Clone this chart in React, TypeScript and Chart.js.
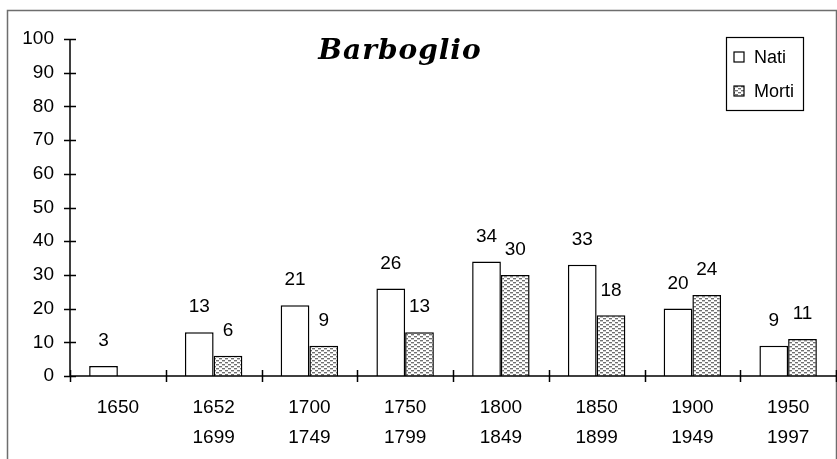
import React, { useEffect, useRef } from "react";
import { Chart, registerables } from "chart.js";
Chart.register(...registerables);

const categories: string[][] = [
  ["1650"],
  ["1652", "1699"],
  ["1700", "1749"],
  ["1750", "1799"],
  ["1800", "1849"],
  ["1850", "1899"],
  ["1900", "1949"],
  ["1950", "1997"],
];
const nati: (number | null)[] = [3, 13, 21, 26, 34, 33, 20, 9];
const morti: (number | null)[] = [null, 6, 9, 13, 30, 18, 24, 11];
const seriesNames = ["Nati", "Morti"];
const titleText = "Barboglio";
const yMin = 0;
const yMax = 100;
const yStep = 10;

const FONT = "'Liberation Sans', Arial, sans-serif";

function makePattern(): CanvasPattern | string {
  const c = document.createElement("canvas");
  c.width = 6;
  c.height = 4;
  const g = c.getContext("2d");
  if (!g) return "#d0d0d0";
  g.fillStyle = "#ffffff";
  g.fillRect(0, 0, 6, 4);
  g.fillStyle = "#707070";
  g.fillRect(0, 0, 3, 1);
  g.fillRect(3, 2, 3, 1);
  g.fillStyle = "#c8c8c8";
  g.fillRect(0, 1, 3, 1);
  g.fillRect(3, 3, 3, 1);
  const p = g.createPattern(c, "repeat");
  return p || "#d0d0d0";
}

export default function App() {
  const ref = useRef<HTMLCanvasElement>(null);

  useEffect(() => {
    if (!ref.current) return;
    const pattern = makePattern();

    const decor = {
      id: "decor",
      afterDraw(chart: any) {
        const ctx = chart.ctx;
        const x = chart.scales.x;
        const y = chart.scales.y;
        const area = chart.chartArea;
        ctx.save();
        // outer frame
        ctx.strokeStyle = "#6e6e6e";
        ctx.lineWidth = 1.5;
        ctx.strokeRect(7.5, 10.5, 829, 460);

        // axes
        ctx.strokeStyle = "#000";
        ctx.lineWidth = 1.5;
        ctx.beginPath();
        ctx.moveTo(area.left, y.getPixelForValue(yMax));
        ctx.lineTo(area.left, y.getPixelForValue(yMin));
        ctx.moveTo(area.left, y.getPixelForValue(0));
        ctx.lineTo(area.right, y.getPixelForValue(0));
        for (let v = yMin; v <= yMax; v += yStep) {
          const py = Math.round(y.getPixelForValue(v)) + 0.5;
          ctx.moveTo(area.left - 6, py);
          ctx.lineTo(area.left + 6, py);
        }
        const n = categories.length;
        const y0 = y.getPixelForValue(0);
        for (let i = 0; i <= n; i++) {
          let px: number;
          if (i === 0) px = area.left;
          else if (i === n) px = area.right;
          else px = (x.getPixelForValue(i - 1) + x.getPixelForValue(i)) / 2;
          px = Math.round(px) + 0.5;
          ctx.moveTo(px, y0 - 6);
          ctx.lineTo(px, y0 + 6);
        }
        ctx.stroke();

        // data labels
        ctx.fillStyle = "#000";
        ctx.font = `19px ${FONT}`;
        ctx.textAlign = "center";
        ctx.textBaseline = "middle";
        chart.data.datasets.forEach((ds: any, di: number) => {
          const meta = chart.getDatasetMeta(di);
          meta.data.forEach((el: any, i: number) => {
            const v = ds.data[i];
            if (v === null || v === undefined) return;
            ctx.fillText(String(v), el.x, el.y - 25);
          });
        });

        // title
        ctx.font = `italic bold 28px 'DejaVu Serif', serif`;
        (ctx as any).letterSpacing = "1px";
        ctx.textAlign = "center";
        ctx.textBaseline = "alphabetic";
        ctx.fillText(titleText, 400, 59);
        (ctx as any).letterSpacing = "0px";

        // legend
        ctx.lineWidth = 1.2;
        ctx.strokeStyle = "#000";
        ctx.strokeRect(726.5, 37.5, 77, 73);
        const items = [
          { label: seriesNames[0], fill: "#ffffff", y: 57 },
          { label: seriesNames[1], fill: pattern, y: 91 },
        ];
        ctx.font = `18px ${FONT}`;
        ctx.textAlign = "left";
        ctx.textBaseline = "middle";
        items.forEach((it) => {
          ctx.fillStyle = it.fill as any;
          ctx.fillRect(734, it.y - 5, 10, 10);
          ctx.strokeRect(734, it.y - 5, 10, 10);
          ctx.fillStyle = "#000";
          ctx.fillText(it.label, 754, it.y + 1);
        });
        ctx.restore();
      },
    };

    const chart = new Chart(ref.current, {
      type: "bar",
      data: {
        labels: categories,
        datasets: [
          {
            label: seriesNames[0],
            data: nati,
            backgroundColor: "#ffffff",
            borderColor: "#000000",
            borderWidth: 1.5,
            categoryPercentage: 0.6,
            barPercentage: 1.0,
          },
          {
            label: seriesNames[1],
            data: morti,
            backgroundColor: pattern as any,
            borderColor: "#000000",
            borderWidth: 1.5,
            categoryPercentage: 0.6,
            barPercentage: 1.0,
          },
        ],
      },
      options: {
        responsive: false,
        animation: false,
        devicePixelRatio: 1,
        layout: { padding: { top: 39, right: 1, left: 0, bottom: 0 } },
        plugins: {
          legend: { display: false },
          title: { display: false },
          tooltip: { enabled: false },
        },
        scales: {
          x: {
            grid: { display: false, drawTicks: false },
            border: { display: false },
            ticks: {
              color: "#000",
              font: { family: FONT, size: 19, lineHeight: 30 / 19 } as any,
              padding: 17,
              maxRotation: 0,
              autoSkip: false,
            },
            afterFit: (s: any) => {
              s.height = 83;
            },
          },
          y: {
            min: yMin,
            max: yMax,
            grid: { display: false, drawTicks: false },
            border: { display: false },
            ticks: {
              stepSize: yStep,
              color: "#000",
              font: { family: FONT, size: 19 },
              padding: 16,
            },
            afterFit: (s: any) => {
              s.width = 70;
            },
          },
        },
      },
      plugins: [decor],
    });
    return () => chart.destroy();
  }, []);

  return (
    <div style={{ position: "absolute", left: 0, top: 0, width: 837, height: 459, background: "#fff" }}>
      <canvas ref={ref} width={837} height={459} style={{ display: "block" }} />
    </div>
  );
}
